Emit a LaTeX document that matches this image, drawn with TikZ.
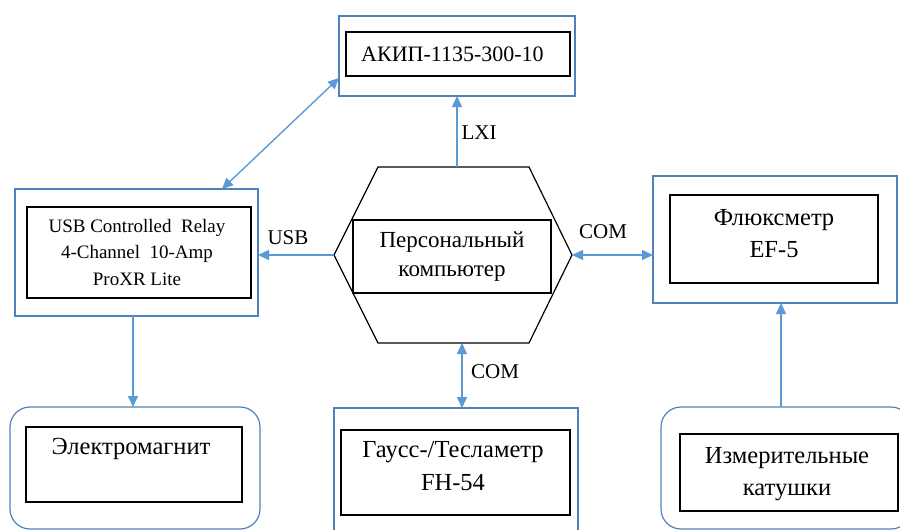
\documentclass[tikz,border=0pt]{standalone}
\usepackage{fontspec}
\setmainfont{Liberation Serif}
\usetikzlibrary{arrows.meta,calc}
\definecolor{arrblue}{RGB}{91,155,213}
\definecolor{boxblue}{RGB}{79,129,189}
\begin{document}
\begin{tikzpicture}[x=1pt,y=-1pt,
  outerbox/.style={draw=boxblue,line width=1.2pt,inner sep=0pt,outer sep=0pt},
  roundbox/.style={outerbox,rounded corners=20pt},
  innerbox/.style={draw=black,line width=1.2pt,inner sep=0pt,outer sep=0pt},
  txt/.style={align=center,inner sep=0pt,font=\fontsize{24.5}{32}\selectfont},
  lbl/.style={inner sep=0pt,font=\fontsize{21}{22}\selectfont},
  tip/.tip={Triangle[length=11pt,width=10pt]},
  conn/.style={draw=arrblue,line width=1.4pt,-tip},
  biconn/.style={draw=arrblue,line width=1.4pt,tip-tip}]
\useasboundingbox (0,0) rectangle (900,530);
\clip (0,0) rectangle (900,530);
% top: AKIP
\node[outerbox,minimum width=236pt,minimum height=80pt] (akipO) at (457,56) {};
\node[innerbox,minimum width=224pt,minimum height=44pt] (akipI) at (458,54) {};
\node[txt,anchor=west,font=\fontsize{22}{26}\selectfont] (akipT) at (361,54) {АКИП-1135-300-10};
% relay
\node[outerbox,minimum width=243pt,minimum height=127pt] (relayO) at (136.5,252.5) {};
\node[innerbox,minimum width=224pt,minimum height=91pt] (relayI) at (139,252.5) {};
\node[txt,font=\fontsize{19}{26.5}\selectfont] (relayT) at (137,252) {USB Controlled\ \ Relay\\4-Channel\ \ 10-Amp\\ProXR Lite};
% PC hexagon
\node[minimum width=238pt,minimum height=176pt,inner sep=0pt,outer sep=0pt] (pc) at (453,255) {};
\draw[line width=1.2pt] (pc.west) -- ($(pc.north west)+(44,0)$) -- ($(pc.north east)+(-43,0)$) -- (pc.east) -- ($(pc.south east)+(-43,0)$) -- ($(pc.south west)+(44,0)$) -- cycle;
\node[innerbox,fill=white,minimum width=198pt,minimum height=73pt] (pcI) at (452,256.5) {};
\node[txt,font=\fontsize{23}{29}\selectfont] (pcT) at (452,257) {Персональный\\компьютер};
% flux
\node[outerbox,minimum width=244pt,minimum height=127pt] (fluxO) at (775,239.5) {};
\node[innerbox,minimum width=208pt,minimum height=88pt] (fluxI) at (774,239) {};
\node[txt] (fluxT) at (774,234) {Флюксметр\\EF-5};
% electromagnet
\node[roundbox,minimum width=250pt,minimum height=122pt] (emO) at (135,468) {};
\node[innerbox,minimum width=216pt,minimum height=75pt] (emI) at (134,464.5) {};
\node[txt] (emT) at (131,449) {Электромагнит};
% gauss
\node[outerbox,minimum width=244pt,minimum height=140pt] (gaussO) at (456,478) {};
\node[innerbox,minimum width=229pt,minimum height=85pt] (gaussI) at (455.5,472.5) {};
\node[txt,font=\fontsize{24.5}{33}\selectfont] (gaussT) at (453,466) {Гаусс-/Тесламетр\\FH-54};
% coils
\node[roundbox,minimum width=250pt,minimum height=122pt] (coilsO) at (786,468) {};
\node[innerbox,minimum width=218pt,minimum height=77pt] (coilsI) at (789,472.5) {};
\node[txt] (coilsT) at (787,474) {Измерительные\\катушки};
% connectors
\draw[biconn] ($(akipO.south west)+(0,-18)$) -- ($(relayO.north east)+(-36,0)$);
\draw[conn] (pc.north -| akipO.south) -- (akipO.south);
\draw[conn] (pc.west) -- (relayO.east |- pc.west);
\draw[biconn] (pc.east) -- (fluxO.west |- pc.east);
\coordinate (gaussTop) at ($(gaussO.north)+(6,0)$);
\draw[biconn] (pc.south -| gaussTop) -- (gaussTop);
\coordinate (relayBot) at ($(relayO.south west)+(118,0)$);
\draw[conn] (relayBot) -- (relayBot |- emO.north);
\coordinate (coilsTop) at ($(coilsO.north west)+(120,0)$);
\draw[conn] (coilsTop) -- (coilsTop |- fluxO.south);
% labels
\node[lbl] (lxi) at (479,133) {LXI};
\node[lbl] (usb) at (288,238) {USB};
\node[lbl] (com1) at (603,232) {COM};
\node[lbl] (com2) at (495,372) {COM};
\end{tikzpicture}
\end{document}
